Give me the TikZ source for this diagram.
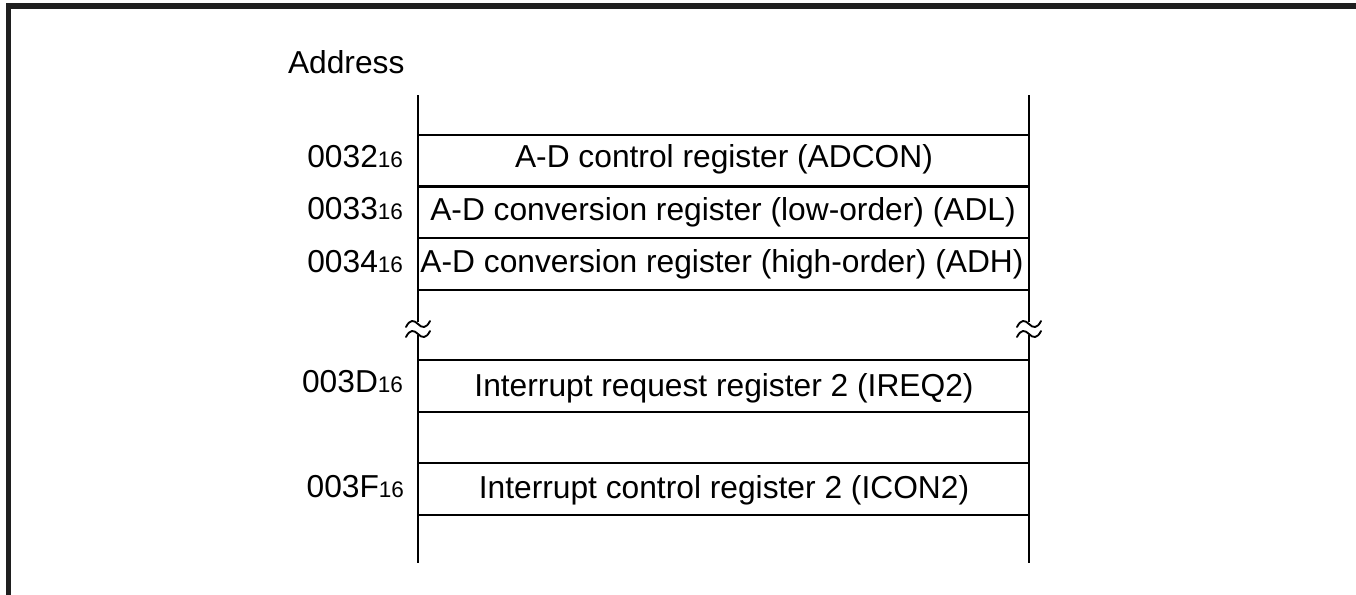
\documentclass[tikz,border=0pt]{standalone}
\usepackage{fontspec}
\setmainfont{Liberation Sans}
\newcommand\subsz{\fontsize{16.9}{20}\selectfont}
\begin{document}
\begin{tikzpicture}[x=0.75pt,y=-0.75pt,line width=1.5pt,
  txt/.style={inner sep=0pt,font=\fontsize{23.8}{28}\selectfont},
  lbl/.style={txt,anchor=base east},
  reg/.style={txt,anchor=base},
  rule/.style={line width=1.6pt},
  brk/.style={line width=1.4pt,line cap=round}]
\useasboundingbox (0,0) rectangle (1356,594);
% frame
\draw[line width=4.3pt,black!88,line join=miter] (8.5,600) -- (8.5,6.3) -- (1360,6.3);
% title
\node[txt,anchor=base west] (addr) at (287,73) {Address};
% verticals with breaks
\foreach \x in {418,1029}{
  \draw[rule] (\x,95) -- (\x,322);
  \draw[rule] (\x,335) -- (\x,563);
  \foreach \y in {324,334}{
    \draw[brk] (\x-12,\y+3) .. controls (\x-8,\y-5) and (\x-4,\y-4) .. (\x,\y)
               .. controls (\x+4,\y+4) and (\x+8,\y+5) .. (\x+12,\y-3);
  }
}
% horizontal rules
\foreach \y in {135,186.5,238,290,360,412,463,515}{
  \draw[rule] (418,\y) -- (1029,\y);
}
% addresses
\node[lbl] (a32) at (404,167) {0032{\subsz 16}};
\node[lbl] (a33) at (404,219) {0033{\subsz 16}};
\node[lbl] (a34) at (404,272.5) {0034{\subsz 16}};
\node[lbl] (a3D) at (404,392) {003D{\subsz 16}};
\node[lbl] (a3F) at (405,497) {003F{\subsz 16}};
% registers
\node[reg] (r32) at (724,167) {A-D control register (ADCON)};
\node[reg] (r33) at (723,220) {A-D conversion register (low-order) (ADL)};
\node[reg] (r34) at (722,272) {A-D conversion register (high-order) (ADH)};
\node[reg] (r3D) at (724,396) {Interrupt request register 2 (IREQ2)};
\node[reg] (r3F) at (724,498) {Interrupt control register 2 (ICON2)};
\end{tikzpicture}
\end{document}
